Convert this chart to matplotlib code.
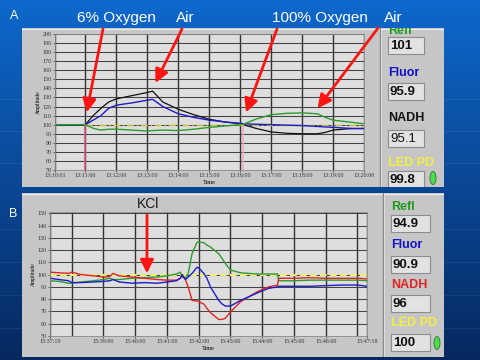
import numpy as np
import matplotlib.pyplot as plt
from matplotlib.patches import Rectangle, Ellipse

plt.rcParams['font.family'] = ['Liberation Sans', 'DejaVu Sans']

W, H = 480, 360

# ── Panel A: oxygen challenge (minutes after 13:10:00) ───────────────────────
t_a     = [0.02, 1.0, 1.25, 1.5, 1.75, 2.0, 2.5, 3.0, 3.17, 3.5, 4.0, 4.5, 5.0,
           5.5, 6.0, 6.1, 6.5, 7.0, 7.5, 8.0, 8.5, 8.75, 9.0, 9.5, 10.0]
refl_a  = [100, 100, 96, 94, 95, 95, 94, 93, 93.5, 94, 93.5, 95, 97,
           98.5, 100, 100.5, 106, 111, 112.5, 113, 112, 108, 105, 103, 101]
fluor_a = [100, 100, 105, 110, 118, 121.5, 124, 127, 128, 120, 112, 108, 105,
           103, 101.5, 101, 100.5, 100, 99.5, 99, 98, 97.5, 97, 96, 95.5]
nadh_a  = [100, 100, 110, 118, 125, 128.5, 132, 135.5, 137, 125, 117, 111, 106,
           103, 101, 100, 96, 92, 90.5, 90, 90, 91.5, 94, 95.5, 96]
led_t_a = [1.0, 10.0]
led_a   = [100, 100]
events_a = [1.0, 6.08]
xticks_a  = [0.017, 1, 2, 3, 4, 5, 6, 7, 8, 9, 10]
xlabels_a = ['13:10:01', '13:11:00', '13:12:00', '13:13:00', '13:14:00',
             '13:15:00', '13:16:00', '13:17:00', '13:18:00', '13:19:00',
             '13:20:00']

# ── Panel B: KCl (minutes after 15:37:00) ────────────────────────────────────
t_b     = [0.32, 0.6, 0.9, 1.0, 1.3, 1.7, 2.0, 2.2, 2.3, 2.5, 2.9, 3.3, 3.7,
           4.0, 4.3, 4.42, 4.48, 4.58, 4.67, 4.79, 4.95, 5.0, 5.16, 5.26, 5.37,
           5.63, 5.74, 5.84, 6.0, 6.32, 6.84, 7.2, 7.48, 7.52, 8.0, 8.5, 9.0,
           9.5, 10.0, 10.3]
nadh_b  = [102, 101.5, 101, 102, 100, 99, 98, 98.5, 101, 99, 98, 97, 96,
           95.5, 95.5, 97, 100, 96, 90, 79, 78.5, 78, 76, 72.5, 69,
           63.5, 63.5, 64.5, 69.5, 78, 86, 90, 91.5, 97, 97, 97.5, 97,
           97, 97, 96.5]
fluor_b = [97, 96, 95, 93.5, 93.5, 94, 94.5, 95, 96, 94, 93, 93.5, 93,
           94, 95, 97, 100, 96, 98, 101, 106, 105.5, 101, 97, 90,
           79, 76, 74.4, 74.4, 79, 85, 88.8, 90, 90.5, 90.5, 90.5, 91,
           91.5, 91.5, 90.5]
refl_b  = [95, 94.5, 93, 93, 94, 95, 96, 97, 96, 96, 97, 97.5, 98,
           99, 100.5, 102, 98, 97, 101, 117, 126.5, 126.5, 126, 124, 122.5,
           117, 113, 109, 103.7, 101.5, 100.5, 100.5, 100.5, 95, 95, 95.5, 95.5,
           95.5, 95.5, 95]
led_t_b = [0.32, 10.3]
led_b   = [100, 100]
kcl_t, kcl_v = 3.37, 101
xticks_b  = [0.317, 2, 3, 4, 5, 6, 7, 8, 9, 10.3]
xlabels_b = ['15:37:19', '15:39:00', '15:40:00', '15:41:00', '15:42:00',
             '15:43:00', '15:44:00', '15:45:00', '15:46:00', '15:47:18']

readout_names = ['Refl', 'Fluor', 'NADH', 'LED PD']
readout_a = ['101', '95.9', '95.1', '99.8']
readout_b = ['94.9', '90.9', '96', '100']

GREEN, BLUE, RED = '#2c9c2c', '#1c1cc8', '#e02424'
LBL_GREEN, LBL_BLUE, LBL_YEL = '#1f9a1f', '#1010c8', '#f4f040'


def box(x0, y0, x1, y1):
    """pixel box (top-left origin) -> figure fraction rect"""
    return [x0 / W, 1 - y1 / H, (x1 - x0) / W, (y1 - y0) / H]


def fig_px(x, y):
    return (x / W, 1 - y / H)


fig = plt.figure(figsize=(4.8, 3.6), dpi=100)

# ── blue slide background ────────────────────────────────────────────────────
bg = fig.add_axes([0, 0, 1, 1])
grad = np.linspace(0, 1, 256)[:, None]
top, bot = np.array([14, 104, 204]) / 255, np.array([6, 40, 96]) / 255
img = top + (bot - top) * grad[..., None]
img = np.repeat(img, 2, axis=1)
bg.imshow(img, aspect='auto', extent=[0, W, H, 0])
for yy in [99, 131, 163, 229, 262, 295, 328]:
    bg.plot([0, W], [yy, yy], color='white', alpha=0.07, lw=0.8)
bg.set_xlim(0, W)
bg.set_ylim(H, 0)
bg.axis('off')


def panel(x0, y0, x1, y1, sep_x):
    ax = fig.add_axes(box(x0, y0, x1, y1))
    ax.set_xlim(x0, x1)
    ax.set_ylim(y1, y0)
    ax.axis('off')
    ax.add_patch(Rectangle((x0, y0), x1 - x0, y1 - y0, fc='#c6c6c6', ec='none'))
    ax.plot([x0, x1], [y0 + 0.5, y0 + 0.5], color='#eeeeee', lw=0.8)
    ax.plot([sep_x, sep_x], [y0, y1], color='#8a8a8a', lw=1.0)
    ax.plot([sep_x + 1.5, sep_x + 1.5], [y0, y1], color='#e4e4e4', lw=0.6)
    return ax


def readouts(ax, x, label_y, box_y, values, colors, bold_vals, box_w, led_xy):
    for name, val, c, ly, by, bold in zip(readout_names, values, colors,
                                          label_y, box_y, bold_vals):
        ax.text(x, ly, name, color=c, fontsize=9, fontweight='bold',
                va='center', ha='left', clip_on=True)
        ax.add_patch(Rectangle((x, by), box_w, 17, fc='#e2e2e2',
                               ec='#8c8c8c', lw=0.8))
        ax.text(x + 2, by + 9, val, fontsize=9.5, color='#111111',
                fontweight='bold' if bold else 'normal', va='center')
    ax.add_patch(Ellipse(led_xy, 6, 13, fc='#48e048', ec='#3c6a3c', lw=0.6))


# ── Panel A ──────────────────────────────────────────────────────────────────
pa = panel(22, 28, 444, 187, 380)
readouts(pa, 388, [31.5, 73.5, 118, 163], [37, 83, 130, 171], readout_a,
         [LBL_GREEN, LBL_BLUE, '#111111', LBL_YEL],
         [True, True, False, True], 36, (433, 178))

axA = fig.add_axes(box(55, 34, 364, 170))
axA.plot(led_t_a, led_a, color='#c8c040', lw=1.0, dashes=(5, 2, 1, 2))
axA.plot(t_a, nadh_a, color='#111111', lw=0.9)
axA.plot(t_a, fluor_a, color=BLUE, lw=1.0)
axA.plot(t_a, refl_a, color=GREEN, lw=1.0)
axA.vlines(events_a, 50, 100, colors=['#e0508a', '#f2a6c6'], lw=1.1)
axA.set_xlim(0.017, 10)
axA.set_ylim(50, 200)
axA.set_yticks(np.arange(50, 201, 10))
axA.set_xticks(xticks_a)
axA.set_xticklabels(xlabels_a)
axA.set_ylabel('Amplitude', fontsize=4, labelpad=1, family='Liberation Serif')
axA.set_xlabel('Time', fontsize=4.5, labelpad=1, family='Liberation Serif')

# ── Panel B ──────────────────────────────────────────────────────────────────
pb = panel(22, 193, 444, 357, 383)
readouts(pb, 391, [206.5, 245, 284.5, 323], [215, 256, 295, 334], readout_b,
         [LBL_GREEN, LBL_BLUE, RED, LBL_YEL],
         [True, True, True, True], 39, (437, 343))

axB = fig.add_axes(box(50, 212, 367, 336))
axB.plot(led_t_b, led_b, color='#f0f070', lw=1.6, dashes=(3, 1.5))
axB.plot(t_b, refl_b, color=GREEN, lw=1.0)
axB.plot(t_b, nadh_b, color=RED, lw=1.0)
axB.plot(t_b, fluor_b, color=BLUE, lw=1.0)
axB.set_xlim(0.317, 10.3)
axB.set_ylim(50, 151)
axB.set_yticks(np.arange(50, 151, 10))
axB.set_xticks(xticks_b)
axB.set_xticklabels(xlabels_b)
axB.set_xticks(range(1, 11), minor=True)
axB.set_ylabel('Amplitude', fontsize=4, labelpad=1, family='Liberation Serif')
axB.set_xlabel('Time', fontsize=4.5, labelpad=1, family='Liberation Serif')

for ax in (axA, axB):
    ax.set_facecolor('#dedede')
    ax.grid(axis='y', color='#444444', lw=0.75)
    ax.grid(axis='x', which='both', color='#333333', lw=1.0)
    ax.set_axisbelow(True)
    ax.tick_params(labelsize=4.3, length=1.5, pad=1, colors='#333333',
                   width=0.5)
    ax.tick_params(which='minor', length=0)
    for lab in ax.get_xticklabels() + ax.get_yticklabels():
        lab.set_family('Liberation Serif')
    for s in ax.spines.values():
        s.set_color('#8a8a8a')
        s.set_linewidth(0.6)

# ── annotations ──────────────────────────────────────────────────────────────
arrow = dict(arrowstyle='-|>,head_length=0.8,head_width=0.4', color='#ff1414',
             lw=2.0, shrinkA=0, shrinkB=0)
for ax, tip, tail in [(axA, (1.04, 113.5), (103, 29)),
                      (axA, (3.26, 146), (182, 29)),
                      (axA, (6.19, 113.5), (277, 29)),
                      (axA, (8.5, 118), (378, 28)),
                      (axB, (kcl_t, kcl_v), (147, 215))]:
    ax.annotate('', xy=tip, xytext=fig_px(*tail), textcoords='figure fraction',
                arrowprops=arrow, annotation_clip=False)

for txt, x in [('6% Oxygen', 116), ('Air', 185), ('100% Oxygen', 320),
               ('Air', 393)]:
    fig.text(*fig_px(x, 18), txt, color='white', fontsize=11,
             ha='center', va='center')
fig.text(*fig_px(148, 204), 'KCl', color='#1a1a1a', fontsize=10,
         ha='center', va='center')
fig.text(*fig_px(14, 16), 'A', color='white', fontsize=9, ha='center',
         va='center')
fig.text(*fig_px(13, 214), 'B', color='white', fontsize=9, ha='center',
         va='center')

fig.savefig('out.png', dpi=100)
